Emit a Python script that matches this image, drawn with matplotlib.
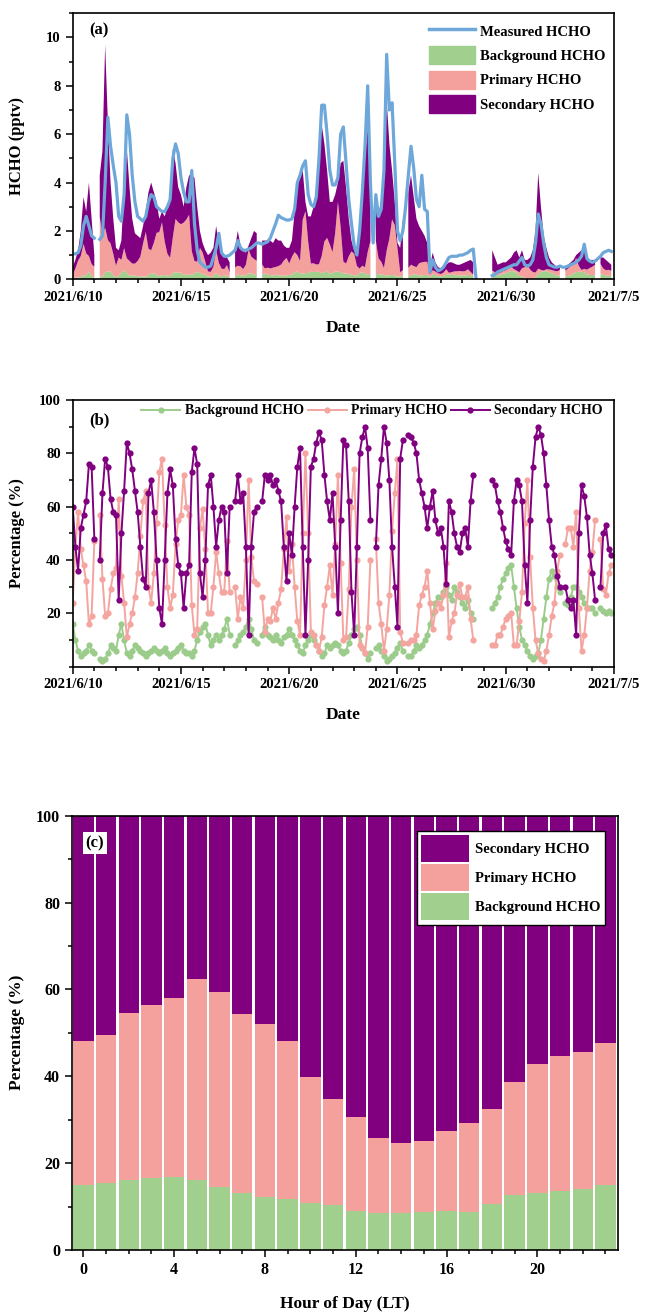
import numpy as np
import pandas as pd
import matplotlib
matplotlib.use('Agg')
import matplotlib.pyplot as plt
import matplotlib.dates as mdates
from matplotlib.lines import Line2D
from matplotlib.patches import Patch
from matplotlib.ticker import MultipleLocator, FuncFormatter, FixedLocator
from datetime import datetime, timedelta

nan = np.nan

# 3-hourly values starting 2021-06-10 00:00, one row per day
measured = [
    1.05, 1.05, 1.1, 1.4, 2.2, 2.6, 2.2, 1.8,
    1.7, nan, 1.65, 1.8, 4.0, 6.7, 5.5, 4.7,
    4.0, 2.6, 2.4, 3.5, 6.8, 6.0, 4.3, 3.2,
    2.6, 2.5, 2.4, 2.6, 3.2, 3.5, 3.4, 3.0,
    2.9, 2.8, 2.8, 3.0, 3.3, 5.0, 5.6, 5.2,
    4.2, 3.6, 3.2, 3.2, 4.5, 2.3, 1.2, 0.7,
    0.6, 0.5, 0.5, 0.55, 0.9, 1.3, 1.9, 1.1,
    0.95, 0.95, 1.0, 1.1, 1.2, 1.6, 1.3, 1.2,
    1.2, 1.25, 1.3, 1.4, 1.5, 1.5, 1.45, 1.5,
    1.55, 1.7, 2.0, 2.3, 2.65, 2.55, 2.5, 2.45,
    2.45, 2.5, 2.9, 4.0, 4.3, 4.7, 4.9, 3.5,
    3.1, 3.0, 3.4, 5.0, 7.2, 7.2, 6.0, 4.5,
    3.9, 3.9, 4.2, 6.0, 6.3, 4.8, 3.3, 2.3,
    1.4, 1.0, 2.0, 3.6, 5.5, 8.0, 4.0, 1.5,
    3.5, 2.6, 2.9, 4.5, 9.3, 7.0, 7.3, 4.8,
    2.0, 1.6, 2.0, 3.0, 4.3, 5.5, 4.6, 3.3,
    3.0, 4.3, 2.9, 2.8, 0.3, 0.8, 0.5, 0.35,
    0.4, 0.5, 0.7, 0.9, 0.95, 0.95, 0.95, 1.0,
    1.0, 1.05, 1.1, 1.2, 1.25, 0.05, nan, nan,
    nan, nan, nan, 0.15, 0.2, 0.3, 0.35, 0.4,
    0.45, 0.5, 0.55, 0.6, 0.6, 0.75, 0.9, 0.6,
    0.55, 0.6, 0.8, 1.5, 2.7, 2.3, 1.5, 0.9,
    0.6, 0.55, 0.5, 0.5, 0.55, 0.5, 0.5, 0.55,
    0.6, 0.65, 0.7, 0.8, 0.95, 1.45, 0.85, 0.75,
    0.7, 0.75, 0.85, 0.95, 1.1, 1.15, 1.2, 1.15,
]

# modelled total (background + primary + secondary), pptv
model_total = [
    0.5, 0.8, 1.2, 2.0, 3.4, 2.8, 4.0, 2.5,
    1.0, nan, 4.3, 5.3, 9.7, 6.5, 4.0, 2.5,
    1.3, 1.2, 1.6, 3.8, 5.4, 3.8, 2.5, 1.9,
    1.8, 1.7, 2.2, 2.8, 3.6, 4.0, 3.6, 3.2,
    2.5, 2.8, 2.6, 3.0, 3.4, 5.4, 4.8, 3.8,
    3.5, 3.0, 3.8, 4.3, 4.3, 4.2, 3.0, 2.0,
    1.5, 1.2, 1.0, 1.1, 1.3, 2.2, 1.5, 1.1,
    1.0, 0.9, 0.7, nan, 1.3, 2.0, 1.4, 1.2,
    1.1, 1.4, 1.7, 2.0, 1.9, nan, 1.6, 1.6,
    1.6, 1.6, 1.5, 1.7, 1.6, 1.6, 1.4, 1.3,
    1.3, 1.6, 2.8, 4.0, 4.2, 4.5, 3.2, 2.6,
    2.6, 3.0, 3.8, 5.2, 6.4, 5.6, 4.5, 3.2,
    3.2, 3.5, 4.0, 4.8, 4.9, 3.8, 2.5, 1.6,
    1.2, 1.0, 2.2, 4.0, 5.0, 6.3, 3.5, nan,
    2.9, 2.7, 3.3, 4.6, 7.4, 5.6, 4.5, 3.2,
    1.5, 1.3, 2.5, nan, 3.6, 4.3, 3.4, 2.5,
    2.2, 2.0, 1.8, 1.5, 0.5, 1.1, 0.7, 0.5,
    0.45, 0.5, 0.6, 0.7, 0.7, 0.65, 0.6, 0.6,
    0.65, 0.7, 0.75, 0.8, 0.7, nan, nan, nan,
    nan, nan, nan, 1.2, 0.9, 0.6, 0.65, 0.7,
    0.7, 0.8, 0.9, 1.1, 1.2, 0.9, 1.2, 0.8,
    0.8, 0.9, 1.2, 2.0, 4.4, 3.0, 1.8, 1.3,
    0.9, 0.7, 0.6, 0.5, 0.55, nan, 0.5, 0.6,
    0.7, 0.8, 1.0, 1.1, 1.2, 1.2, 0.9, 0.8,
    0.8, 0.8, nan, 0.9, 0.9, 0.8, 0.7, 0.6,
]

# source shares, %
bg_pct = [
    16, 10, 6, 4, 5, 6, 8, 6,
    5, nan, 3, 2, 3, 5, 8, 7,
    6, 12, 16, 10, 5, 4, 6, 8,
    7, 6, 5, 4, 5, 6, 7, 6,
    5, 6, 7, 5, 4, 5, 6, 7,
    8, 6, 5, 5, 4, 6, 10, 13,
    15, 16, 12, 8, 10, 12, 10, 12,
    14, 18, 12, nan, 8, 10, 12, 13,
    15, 18, 14, 10, 9, nan, 12, 15,
    12, 11, 10, 12, 10, 9, 11, 12,
    14, 12, 10, 8, 6, 5, 8, 10,
    12, 10, 8, 6, 4, 5, 8, 7,
    8, 9, 8, 6, 5, 6, 9, 12,
    14, 15, 12, 7, 5, 3, 5, nan,
    7, 8, 6, 4, 2, 3, 4, 5,
    7, 9, 6, nan, 4, 4, 6, 8,
    7, 8, 10, 12, 16, 20, 24, 26,
    26, 28, 30, 27, 25, 30, 28, 26,
    24, 22, 25, 20, 18, nan, nan, nan,
    nan, nan, nan, 22, 24, 26, 30, 33,
    35, 37, 38, 30, 22, 15, 10, 8,
    6, 4, 3, 4, 5, 10, 18, 26,
    33, 36, 34, 30, 28, nan, 24, 23,
    26, 30, 30, 28, 26, 24, 22, 22,
    22, 20, nan, 22, 21, 20, 21, 20,
]

sec_pct = [
    60, 45, 36, 52, 57, 62, 76, 75,
    48, nan, 40, 65, 78, 75, 63, 58,
    57, 25, 50, 66, 84, 80, 74, 66,
    58, 45, 33, 30, 65, 70, 58, 40,
    22, 16, 40, 65, 74, 68, 48, 38,
    35, 22, 35, 38, 73, 82, 76, 35,
    26, 40, 68, 72, 60, 45, 55, 60,
    58, 35, 60, nan, 62, 72, 62, 65,
    45, 12, 45, 58, 60, nan, 62, 72,
    70, 72, 68, 70, 66, 62, 45, 32,
    50, 42, 60, 75, 82, 45, 12, 40,
    75, 78, 84, 88, 85, 72, 62, 55,
    65, 45, 20, 55, 85, 83, 62, 28,
    12, 45, 80, 86, 90, 82, 55, nan,
    45, 68, 78, 90, 84, 70, 45, 30,
    15, 78, 85, nan, 87, 86, 84, 80,
    70, 65, 60, 52, 60, 66, 55, 50,
    52, 45, 31, 62, 58, 50, 45, 43,
    50, 52, 45, 62, 72, nan, nan, nan,
    nan, nan, nan, 70, 68, 62, 58, 52,
    47, 44, 42, 62, 70, 68, 62, 38,
    24, 55, 75, 86, 90, 87, 80, 68,
    55, 45, 42, 34, 30, nan, 30, 25,
    22, 25, 12, 50, 68, 64, 56, 42,
    35, 25, nan, 30, 50, 53, 44, 42,
]

# diurnal mean shares, %
hours = list(range(24))
bg_hour = [15.0, 15.5, 16.0, 16.5, 16.8, 16.2, 14.6, 13.1, 12.3, 11.8, 10.8, 10.3,
           9.0, 8.4, 8.5, 8.7, 9.0, 8.8, 10.5, 12.6, 13.0, 13.5, 14.1, 14.9]
pri_hour = [33.0, 34.0, 38.5, 40.0, 41.2, 46.1, 44.7, 41.2, 39.8, 36.3, 29.1, 24.4,
            21.5, 17.3, 16.2, 16.3, 18.5, 20.5, 21.9, 26.0, 29.7, 31.1, 31.5, 32.8]

GREEN = '#a0cf8e'
PINK = '#f4a09d'
PURPLE = '#800080'
BLUE = '#6ea7da'

plt.rcParams['font.family'] = ['Liberation Serif', 'DejaVu Serif']
plt.rcParams['font.weight'] = 'bold'
plt.rcParams['axes.labelweight'] = 'bold'
plt.rcParams['axes.linewidth'] = 1.2

t = pd.date_range('2021-06-10', periods=len(measured), freq='3h')
measured = np.array(measured, dtype=float)
model_total = np.array(model_total, dtype=float)
bg_pct = np.array(bg_pct, dtype=float)
sec_pct = np.array(sec_pct, dtype=float)
pri_pct = 100 - bg_pct - sec_pct

bg_abs = model_total * bg_pct / 100
pri_abs = model_total * pri_pct / 100

fig = plt.figure(figsize=(6.46, 13.16), dpi=100)
ax_a = fig.add_axes([0.1125, 0.7878, 0.838, 0.2021])
ax_b = fig.add_axes([0.1125, 0.4934, 0.838, 0.2026])
ax_c = fig.add_axes([0.1115, 0.0502, 0.845, 0.3300])

t0 = datetime(2021, 6, 10)
major_days = [t0 + timedelta(days=5 * i) for i in range(6)]


def date_fmt(x, pos):
    d = mdates.num2date(x)
    return f'{d.year}/{d.month}/{d.day}'


def style_axes(ax):
    ax.tick_params(which='both', direction='out', top=False, right=False,
                   labelsize=10.5, width=1.1)
    ax.tick_params(which='major', length=5)
    ax.tick_params(which='minor', length=3)


def style_dates(ax):
    ax.set_xlim(mdates.date2num(t0), mdates.date2num(t0 + timedelta(days=25)))
    ax.xaxis.set_major_locator(FixedLocator(mdates.date2num(major_days)))
    ax.xaxis.set_minor_locator(mdates.DayLocator())
    ax.xaxis.set_major_formatter(FuncFormatter(date_fmt))


# (a) stacked sources with measured HCHO
ax_a.fill_between(t, 0, bg_abs, color=GREEN, lw=0)
ax_a.fill_between(t, bg_abs, bg_abs + pri_abs, color=PINK, lw=0)
ax_a.fill_between(t, bg_abs + pri_abs, model_total, color=PURPLE, lw=0)
ax_a.plot(t, measured, color=BLUE, lw=2.3)
ax_a.set_ylim(0, 11)
ax_a.yaxis.set_major_locator(MultipleLocator(2))
ax_a.yaxis.set_minor_locator(MultipleLocator(1))
style_dates(ax_a)
style_axes(ax_a)
ax_a.set_ylabel('HCHO (pptv)', fontsize=12)
ax_a.set_xlabel('Date', fontsize=12.5)
ax_a.yaxis.set_label_coords(-0.088, 0.5)
ax_a.xaxis.set_label_coords(0.5, -0.155)
ax_a.text(0.03, 0.965, '(a)', transform=ax_a.transAxes, va='top', fontsize=12)
handles_a = [Line2D([], [], color=BLUE, lw=2.5),
             Patch(color=GREEN), Patch(color=PINK), Patch(color=PURPLE)]
ax_a.legend(handles_a, ['Measured HCHO', 'Background HCHO', 'Primary HCHO', 'Secondary HCHO'],
            loc='upper right', bbox_to_anchor=(1.0, 1.0), frameon=False, fontsize=10.5,
            handlelength=3.2, handleheight=1.5, labelspacing=0.45, handletextpad=0.3,
            borderaxespad=0.2)

# (b) source percentages
kw = dict(marker='o', ms=4.5, lw=1.4, mew=0)
ax_b.plot(t, bg_pct, color='#9ccc8b', label='Background HCHO', **kw)
ax_b.plot(t, pri_pct, color='#f4a5a0', label='Primary HCHO', **kw)
ax_b.plot(t, sec_pct, color=PURPLE, label='Secondary HCHO', **kw)
ax_b.set_ylim(0, 100)
ax_b.yaxis.set_major_locator(FixedLocator([20, 40, 60, 80, 100]))
ax_b.yaxis.set_minor_locator(MultipleLocator(10))
style_dates(ax_b)
style_axes(ax_b)
ax_b.set_ylabel('Percentage (%)', fontsize=12)
ax_b.set_xlabel('Date', fontsize=12.5)
ax_b.yaxis.set_label_coords(-0.088, 0.5)
ax_b.xaxis.set_label_coords(0.5, -0.15)
ax_b.text(0.03, 0.955, '(b)', transform=ax_b.transAxes, va='top', fontsize=12)
ax_b.legend(loc='center', bbox_to_anchor=(0.553, 0.959), ncol=3, frameon=False,
            fontsize=10, columnspacing=0.3, handlelength=2.8, handletextpad=0.3)

# (c) diurnal shares
bg_hour = np.array(bg_hour)
pri_hour = np.array(pri_hour)
sec_hour = 100 - bg_hour - pri_hour
ax_c.bar(hours, bg_hour, width=0.9, color=GREEN, label='Background HCHO')
ax_c.bar(hours, pri_hour, width=0.9, bottom=bg_hour, color=PINK, label='Primary HCHO')
ax_c.bar(hours, sec_hour, width=0.9, bottom=bg_hour + pri_hour, color=PURPLE,
         label='Secondary HCHO')
ax_c.set_xlim(-0.5, 23.55)
ax_c.set_ylim(0, 100)
ax_c.xaxis.set_major_locator(MultipleLocator(4))
ax_c.xaxis.set_minor_locator(MultipleLocator(1))
ax_c.yaxis.set_major_locator(MultipleLocator(20))
ax_c.yaxis.set_minor_locator(MultipleLocator(10))
style_axes(ax_c)
ax_c.tick_params(labelsize=11.5)
ax_c.set_ylabel('Percentage (%)', fontsize=12.5)
ax_c.set_xlabel('Hour of Day (LT)', fontsize=12.5)
ax_c.yaxis.set_label_coords(-0.086, 0.5)
ax_c.xaxis.set_label_coords(0.5, -0.105)
ax_c.text(0.025, 0.955, '(c)', transform=ax_c.transAxes, va='top', fontsize=12,
          bbox=dict(facecolor='white', edgecolor='none', pad=2))
h, l = ax_c.get_legend_handles_labels()
leg = ax_c.legend(h[::-1], l[::-1], loc='upper right', bbox_to_anchor=(0.99, 0.982),
                  fontsize=10.5, fancybox=False, framealpha=1, edgecolor='black',
                  handlelength=3.3, handleheight=2.5, labelspacing=0.12,
                  handletextpad=0.4, borderpad=0.3)
leg.get_frame().set_linewidth(1.0)

fig.savefig('out.png', dpi=100)
